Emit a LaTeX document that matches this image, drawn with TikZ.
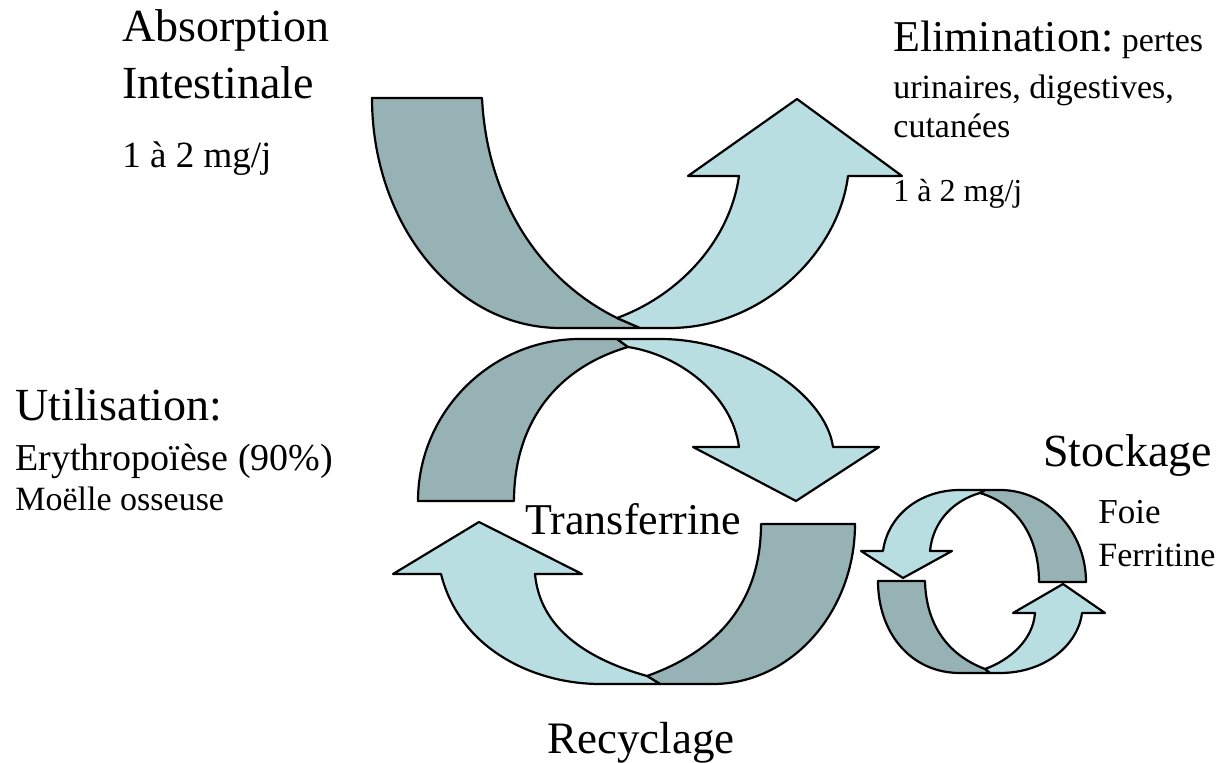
\documentclass[tikz,border=0pt]{standalone}
\usepackage{fontspec}
\setmainfont{Liberation Serif}
\begin{document}
\begin{tikzpicture}[x=0.5pt,y=-0.5pt]
\definecolor{bandback}{RGB}{150,178,180}
\definecolor{bandfront}{RGB}{185,222,226}
\tikzset{
  back/.style={fill=bandback,draw=black,line width=1.1pt,line join=round},
  front/.style={fill=bandfront,draw=black,line width=1.1pt,line join=round},
  lbl/.style={anchor=base west,inner sep=0pt},
  big/.style={lbl,font=\fontsize{22}{26}\selectfont},
  bigger/.style={lbl,font=\fontsize{23}{27}\selectfont},
}
\useasboundingbox (0,0) rectangle (1217,763);

% absorption / elimination (top U)
\path[back] (372,98) .. controls (372,225) and (456,328) .. (560,328) -- (640,328) -- (617,318)
  .. controls (540,280) and (487,200) .. (482,98) -- cycle;
\path[front] (617,318) .. controls (680,295) and (730,240) .. (739,176) -- (688,176) -- (797,99)
  -- (902,176) -- (848,176) .. controls (838,255) and (760,328) .. (670,328) -- (640,328) -- cycle;

% utilisation arch
\path[back] (418,501) .. controls (418,412) and (491,339) .. (580,339) -- (617,339) -- (628,347)
  .. controls (550,370) and (514,430) .. (514,501) -- cycle;
\path[front] (628,347) .. controls (680,355) and (732,395) .. (739,447) -- (693,447) -- (796,501)
  -- (879,447) -- (833,447) .. controls (826,395) and (745,339) .. (660,339) -- (617,339) -- cycle;

% recyclage (bottom U)
\path[back] (855,524) .. controls (855,612) and (791,684) .. (713,684) -- (660,684) -- (647,676)
  .. controls (720,650) and (761,600) .. (761,524) -- cycle;
\path[front] (647,676) .. controls (590,660) and (540,630) .. (535,574) -- (582,574) -- (479,522)
  -- (393,574) -- (441,574) .. controls (460,650) and (535,684) .. (600,684) -- (660,684) -- cycle;

% stockage loop, upper half
\path[back] (1086,582) .. controls (1086,531) and (1047,490) .. (1000,490) -- (985,490) -- (980,493)
  .. controls (1020,505) and (1039,540) .. (1039,582) -- cycle;
\path[front] (980,493) .. controls (955,500) and (933,520) .. (930,551) -- (952,551) -- (903,578)
  -- (861,551) -- (883,551) .. controls (888,515) and (920,490) .. (960,490) -- (985,490) -- cycle;

% stockage loop, lower half
\path[back] (878,581) .. controls (878,632) and (910,673) .. (960,673) -- (990,673) -- (985,669)
  .. controls (948,655) and (926,625) .. (925,581) -- cycle;
\path[front] (985,669) .. controls (1010,660) and (1033,640) .. (1035,613) -- (1013,613) -- (1063,584)
  -- (1105,613) -- (1082,613) .. controls (1078,645) and (1045,673) .. (1000,673) -- (990,673) -- cycle;

% labels
\node[bigger] (absorption) at (122,42) {Absorption};
\node[bigger] (intestinale) at (122,99) {Intestinale};
\node[lbl,font=\fontsize{18.5}{22}\selectfont] (doseA) at (122,168) {1 à 2 mg/j};

\node[big] (elimination) at (893,52) {Elimination:{\fontsize{17}{20}\selectfont\ pertes}};
\node[lbl,font=\fontsize{17}{20}\selectfont] (urinaires) at (893,99) {urinaires, digestives,};
\node[lbl,font=\fontsize{17}{20}\selectfont] (cutanees) at (893,138) {cutanées};
\node[lbl,font=\fontsize{16}{19}\selectfont] (doseE) at (893,202) {1 à 2 mg/j};

\node[bigger] (utilisation) at (15,421) {Utilisation:};
\node[lbl,font=\fontsize{19}{22}\selectfont] (erythro) at (15,471) {Erythropoïèse (90\%)};
\node[lbl,font=\fontsize{17}{20}\selectfont] (moelle) at (15,511) {Moëlle osseuse};

\node[lbl,font=\fontsize{23}{27}\selectfont] (stockage) at (1043,467) {Stockage};
\node[lbl,font=\fontsize{17.5}{21}\selectfont] (foie) at (1098,524) {Foie};
\node[lbl,font=\fontsize{17}{20}\selectfont] (ferritine) at (1098,567) {Ferritine};

\node[big] (transferrine) at (525,535) {Transferrine};
\node[lbl,font=\fontsize{22.5}{27}\selectfont] (recyclage) at (547,754) {Recyclage};
\end{tikzpicture}
\end{document}
